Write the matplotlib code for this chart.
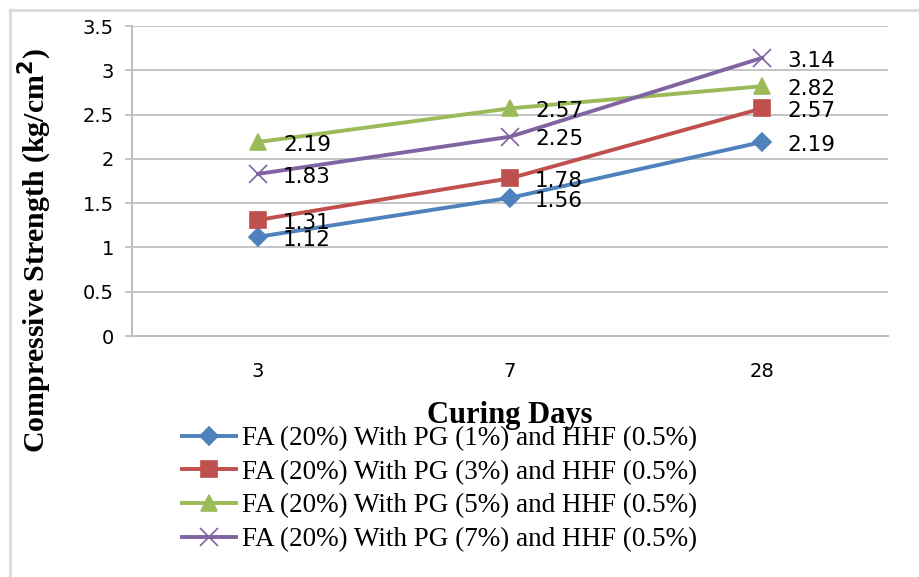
import numpy as np
import matplotlib.pyplot as plt
from matplotlib.lines import Line2D

# curing days on the category axis
days = ["3", "7", "28"]

# compressive strength, kg/cm2
pg1 = [1.12, 1.56, 2.19]
pg3 = [1.31, 1.78, 2.57]
pg5 = [2.19, 2.57, 2.82]
pg7 = [1.83, 2.25, 3.14]

names = ["FA (20%) With PG (1%) and HHF (0.5%)",
         "FA (20%) With PG (3%) and HHF (0.5%)",
         "FA (20%) With PG (5%) and HHF (0.5%)",
         "FA (20%) With PG (7%) and HHF (0.5%)"]

series = [pg1, pg3, pg5, pg7]
colors = ["#4F81BD", "#C0504D", "#9BBB59", "#8064A2"]
markers = ["D", "s", "^", "x"]
msizes = [9, 11, 11, 13]

fig = plt.figure(figsize=(9.2, 5.77), dpi=100)
ax = fig.add_axes([132/920, 1-336/577, 756/920, 310/577])

x = np.arange(len(days))
for vals, name, c, m, ms in zip(series, names, colors, markers, msizes):
    ax.plot(x, vals, color=c, lw=2.8, marker=m, ms=ms, mew=1.2,
            mfc=c, mec=c, label=name, zorder=3)
    for xi, v in zip(x, vals):
        ax.annotate("{:.2f}".format(v), (xi, v), xytext=(18, -2),
                    textcoords="offset points", ha="left", va="center",
                    fontsize=15.5, color="black", zorder=4)

ax.set_xlim(-0.5, 2.5)
ax.set_ylim(0, 3.5)
ax.set_yticks(np.arange(0, 3.51, 0.5))
ax.set_yticklabels(["0", "0.5", "1", "1.5", "2", "2.5", "3", "3.5"])
ax.set_xticks(x)
ax.set_xticklabels(days)

grid_c = "#BFBFBF"
ax.grid(axis="y", color=grid_c, lw=1.3, zorder=0)
for s in ["top", "right"]:
    ax.spines[s].set_visible(False)
for s in ["left", "bottom"]:
    ax.spines[s].set_color(grid_c)
    ax.spines[s].set_linewidth(1.5)
ax.tick_params(axis="y", length=5, width=1.3, color=grid_c, pad=8, labelsize=14)
ax.tick_params(axis="x", length=0, pad=19, labelsize=14)

fig.text(35/920, 1-251/577, "Compressive Strength (kg/cm$^{\\mathbf{2}}$)",
         rotation=90, ha="center", va="center", family="Liberation Serif",
         fontweight="bold", fontsize=21.5)
fig.text(510/920, 1-416/577, "Curing Days", ha="center", va="center",
         family="Liberation Serif", fontweight="bold", fontsize=22)

leg = fig.legend(loc="upper left", bbox_to_anchor=(182/920, 1-426/577),
                 frameon=False, borderpad=0, borderaxespad=0,
                 handlelength=2.0, handletextpad=0.2, labelspacing=0.32,
                 prop={"family": "Liberation Serif", "size": 19.5})

# light frame along top and left edge
fig.add_artist(Line2D([10/920, 1], [1-10/577, 1-10/577], color="#D9D9D9", lw=2))
fig.add_artist(Line2D([10/920, 10/920], [0, 1-10/577], color="#D9D9D9", lw=2))

fig.savefig("out.png", dpi=100)
